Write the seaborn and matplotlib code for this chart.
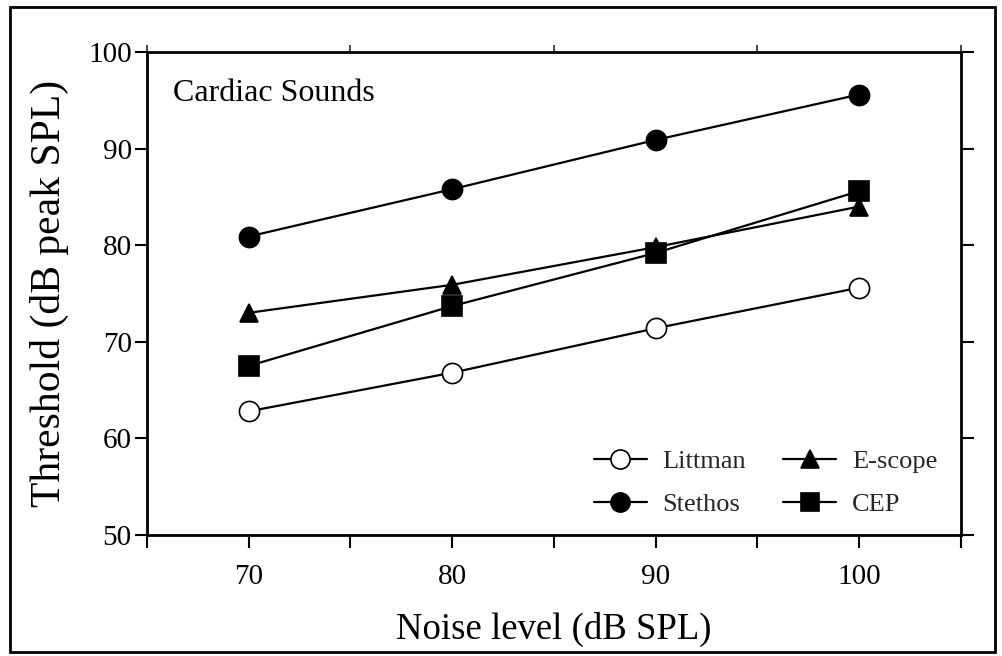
import matplotlib
matplotlib.use("Agg")
import matplotlib.pyplot as plt
import seaborn as sns
import pandas as pd

noise = [70, 80, 90, 100]
littman = [62.8, 66.8, 71.4, 75.6]
stethos = [80.9, 85.8, 90.9, 95.6]
escope = [73.0, 75.9, 79.8, 84.0]
cep = [67.5, 73.7, 79.2, 85.6]

series = ["Littman", "Stethos", "E-scope", "CEP"]
values = [littman, stethos, escope, cep]
markers = {"Littman": "o", "Stethos": "o", "E-scope": "^", "CEP": "s"}
faces = {"Littman": "white", "Stethos": "black", "E-scope": "black", "CEP": "black"}
msizes = {"Littman": 14.5, "Stethos": 14.5, "E-scope": 13.5, "CEP": 14}

df = pd.DataFrame({
    "noise": noise * len(series),
    "threshold": sum(values, []),
    "device": [s for s in series for _ in noise],
})

sns.set_theme(style="ticks")
plt.rcParams["font.family"] = ["Liberation Serif", "DejaVu Serif"]

fig = plt.figure(figsize=(10.02, 6.56), dpi=100)
ax = fig.add_axes([0.1467, 0.1845, 0.9590 - 0.1467, 0.9207 - 0.1845])

handles = {}
for s in series:
    sub = df[df["device"] == s]
    sns.lineplot(data=sub, x="noise", y="threshold", ax=ax, color="black",
                 linewidth=1.6, marker=markers[s], markersize=msizes[s],
                 markerfacecolor=faces[s], markeredgecolor="black",
                 markeredgewidth=1.2, label=s, legend=False)
    handles[s] = ax.lines[-1]

ax.set_xlim(65, 105)
ax.set_ylim(50, 100)
ax.set_xticks([65, 70, 75, 80, 85, 90, 95, 100, 105])
ax.set_xticklabels(["", "70", "", "80", "", "90", "", "100", ""])
ax.set_yticks([50, 60, 70, 80, 90, 100])
ax.set_yticklabels(["50", "60", "70", "80", "90", "100"])

for sp in ax.spines.values():
    sp.set_visible(True)
    sp.set_linewidth(2.0)
    sp.set_color("black")

ax.tick_params(axis="both", direction="out", length=9, width=1.5, colors="black",
               labelsize=21)
ax.tick_params(axis="x", pad=12)
ax.tick_params(axis="y", pad=2, right=True, labelright=False)
ax.tick_params(axis="x", top=False)
sec = ax.secondary_xaxis("top")
sec.set_xticks([65, 75, 85, 95, 105])
sec.set_xticklabels([])
sec.tick_params(direction="out", length=5, width=1.2)
sec.spines["top"].set_visible(False)

ax.set_xlabel("Noise level (dB SPL)", fontsize=26.5, labelpad=16, color="black")
ax.set_ylabel("Threshold (dB peak SPL)", fontsize=30, labelpad=14, color="black")

ax.text(0.032, 0.915, "Cardiac Sounds", transform=ax.transAxes, fontsize=23,
        ha="left", va="center", color="black")

order = ["Littman", "Stethos", "E-scope", "CEP"]
leg = ax.legend([handles[s] for s in order], order, ncol=2, frameon=False,
                loc="lower right", bbox_to_anchor=(1.0, -0.01), fontsize=19,
                handlelength=2.0, columnspacing=1.4, labelspacing=0.75,
                handletextpad=0.6, markerscale=0.95)

fig.patches.append(plt.Rectangle((0.010, 0.006), 0.983, 0.984,
                                 transform=fig.transFigure, fill=False,
                                 edgecolor="black", linewidth=2.0))

fig.savefig("out.png", dpi=100, facecolor="white")
